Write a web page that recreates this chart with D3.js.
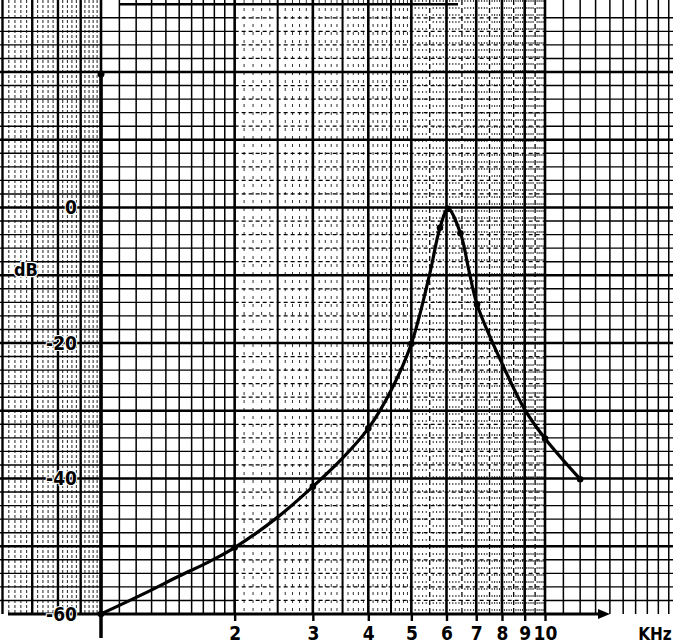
<!DOCTYPE html>
<html>
<head>
<meta charset="utf-8">
<script src="https://cdn.jsdelivr.net/npm/d3@7"></script>
<style>
  html, body { margin: 0; padding: 0; background: #fff; }
  svg { display: block; }
  .lbl { font-family: "DejaVu Sans Condensed", "Liberation Sans Narrow", "Arial Narrow", sans-serif; font-weight: bold; fill: #000; }
</style>
</head>
<body>
<svg id="chart" width="673" height="644"></svg>
<script>
// ---- data ----
const freqKHz  = [1, 1.25, 1.5, 1.75, 2, 2.5, 3, 3.5, 4, 4.5, 5, 5.5, 5.8, 6.05, 6.45, 6.75, 7.03, 8, 9, 10, 12];
const levelDb  = [-60, -57.0, -54.4, -52.3, -50.2, -45.7, -41.2, -37, -32.6, -27, -20.1, -9.8, -3, -0.2, -3.8, -9.5, -14.3, -23, -29.8, -34.1, -40.1];
const markerKHz = [1, 2, 3, 4, 5, 5.8, 6.05, 6.45, 7.03, 10, 12];
const markerDb  = [-60, -50.2, -41.2, -32.6, -20.1, -3, -0.2, -3.8, -14.3, -34.1, -40.1];
const xTickValues = [2, 3, 4, 5, 6, 7, 8, 9, 10];
const xTickLabels = ["2", "3", "4", "5", "6", "7", "8", "9", "10"];
const yTickValues = [0, -20, -40, -60];
const yTickLabels = ["0", "-20", "-40", "-60"];
const xUnit = "KHz";
const yUnit = "dB";

const W = 673, H = 644;
const svg = d3.select("#chart");
const x = d3.scaleLog().domain([1, 10]).range([101, 545]);
const y = d3.scaleLinear().domain([0, -60]).range([207.5, 614]);

const gridTop = 0, gridBottom = y(-60);
const grid = svg.append("g");

function vline(f, w, dash, col) {
  const px = x(f);
  if (px < -2 || px > W + 2) return;
  grid.append("line").attr("x1", px).attr("x2", px).attr("y1", gridTop).attr("y2", gridBottom)
    .attr("stroke", col || "#000").attr("stroke-width", w).attr("stroke-dasharray", dash || null);
}
function hline(v, x1, x2, w, dash, col) {
  grid.append("line").attr("x1", x1).attr("x2", x2).attr("y1", y(v)).attr("y2", y(v))
    .attr("stroke", col || "#000").attr("stroke-width", w).attr("stroke-dasharray", dash || null);
}

// --- vertical log-paper lines ---
for (let k = 58; k < 100; k += 2) {
  const f = k / 100;
  if (k % 10 === 0) vline(f, 2.4);
  else vline(f, 1, "3,2", "#222");
}
for (let k = 11; k < 20; k++) vline(k / 10, 1.5);
for (let k = 21; k < 50; k++) {
  if (k % 10 === 0) continue;
  if (k % 5 === 0) vline(k / 10, 2);
  else vline(k / 10, 1, "3,5", "#333");
}
for (let k = 51; k < 100; k++) {
  if (k % 10 === 0) continue;
  if (k % 5 === 0) vline(k / 10, 1.3, "5,3");
  else vline(k / 10, 1, "2,5", "#333");
}
for (let k = 11; k < 20; k++) vline(k, 1.5);
for (let k = 1; k <= 20; k += (k < 10 ? 1 : 10)) vline(k, 2.6);

// --- horizontal lines: every 2 dB, heavier every 10 dB ---
for (let v = 28; v >= -58; v -= 2) {
  if (v % 10 === 0) continue;
  hline(v, 0, x(2), 1.4);
  hline(v, x(2), x(10), 1.2, "4,3");
  hline(v, x(10), W, 1.4);
}
for (let v = 20; v >= -50; v -= 10) hline(v, 0, W, 2.6);
hline(30, 120, 458, 2.6);

// --- axes ---
const axes = svg.append("g");
axes.append("line").attr("x1", x(1)).attr("x2", x(1)).attr("y1", y(20)).attr("y2", 638)
  .attr("stroke", "#000").attr("stroke-width", 3.5);
axes.append("circle").attr("cx", x(1)).attr("cy", y(20) + 2).attr("r", 3.5).attr("fill", "#000");
axes.append("line").attr("x1", 8).attr("x2", 604).attr("y1", y(-60)).attr("y2", y(-60))
  .attr("stroke", "#000").attr("stroke-width", 3);
axes.append("path").attr("d", `M598,${y(-60) - 5} L610,${y(-60)} L598,${y(-60) + 5} Z`).attr("fill", "#000");

const xAxis = d3.axisBottom(x)
  .tickValues(xTickValues)
  .tickFormat((d, i) => xTickLabels[i])
  .tickSize(7)
  .tickPadding(9);
const gx = svg.append("g").attr("transform", `translate(0,${y(-60)})`).call(xAxis);
gx.select(".domain").remove();
gx.selectAll(".tick line").attr("stroke", "#000").attr("stroke-width", 2.4);
gx.selectAll(".tick text").attr("class", "lbl").attr("font-size", 19).attr("dy", "0.55em");
svg.append("text").attr("class", "lbl").attr("x", 655).attr("y", 640)
  .attr("text-anchor", "middle").attr("font-size", 17).text(xUnit);

const yAxis = d3.axisLeft(y)
  .tickValues(yTickValues)
  .tickFormat((d, i) => yTickLabels[i])
  .tickSize(0)
  .tickPadding(0);
const gy = svg.append("g").attr("transform", "translate(77,0)").call(yAxis);
gy.select(".domain").remove();
gy.selectAll(".tick text").attr("class", "lbl").attr("font-size", 19)
  .attr("stroke", "#fff").attr("stroke-width", 2).attr("paint-order", "stroke");
svg.append("text").attr("class", "lbl").attr("x", 26).attr("y", 270).attr("dy", "0.35em")
  .attr("text-anchor", "middle").attr("font-size", 18)
  .attr("stroke", "#fff").attr("stroke-width", 2.5).attr("paint-order", "stroke").text(yUnit);

// --- response curve ---
const pts = freqKHz.map((f, i) => [f, levelDb[i]]);
const line = d3.line().x(d => x(d[0])).y(d => y(d[1])).curve(d3.curveCatmullRom.alpha(0.5));
svg.append("path").datum(pts).attr("d", line)
  .attr("fill", "none").attr("stroke", "#000").attr("stroke-width", 3.2).attr("stroke-linejoin", "round");

svg.append("g").selectAll("circle")
  .data(markerKHz.map((f, i) => [f, markerDb[i]]))
  .join("circle")
  .attr("cx", d => x(d[0])).attr("cy", d => y(d[1])).attr("r", 3.3).attr("fill", "#000");
</script>
</body>
</html>
